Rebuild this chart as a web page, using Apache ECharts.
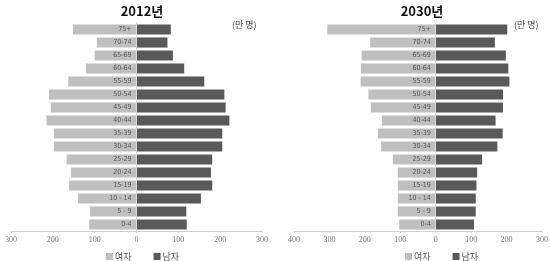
<!DOCTYPE html>
<html><head><meta charset="utf-8">
<script src="https://cdn.jsdelivr.net/npm/echarts@6/dist/echarts.min.js"></script>
<style>html,body{margin:0;padding:0;background:#fff}#c{width:550px;height:261px}</style>
</head><body><div id="c"></div>
<script>
const categories = ['0-4','5 - 9','10 - 14','15-19','20-24','25-29','30-34','35-39','40-44','45-49','50-54','55-59','60-64','65-69','70-74','75+'];
const female2012 = [113,111,140,161,157,167,197,197,215,205,209,163,121,100,95,152];
const male2012   = [120,119,154,181,178,181,205,205,222,213,210,162,114,87,74,82];
const female2030 = [103,107,107,107,107,121,154,163,152,183,190,212,211,209,185,306];
const male2030   = [108,113,113,115,117,131,174,189,169,190,190,208,205,198,167,202];
const titles = ['2012년','2030년'];
const seriesNames = ['여자','남자'];
const unitLabel = '(만 명)';

const font = '"Noto Sans CJK KR", "Noto Sans", sans-serif';
const cFemale = '#bfbfbf', cMale = '#595959';
const grids = [{left:11, right:288, top:23, bottom:30}, {left:294, right:8, top:23, bottom:30}];
const W = 550;
const chart = echarts.init(document.getElementById('c'), null, {renderer:'canvas'});
const neg = a => a.map(v => -v);
function zeroX(gi, min) {
  const g = grids[gi]; const w = W - g.left - g.right;
  return g.left + w * (-min) / (300 - min);
}
const mins = [-300, -400];
function xAxis(gi) {
  return {gridIndex: gi, type:'value', min: mins[gi], max: 300, interval: 100,
    axisLine:{show:true, onZero:false, lineStyle:{color:'#d0d0d0'}},
    axisTick:{show:true, length:2, lineStyle:{color:'#d0d0d0'}},
    splitLine:{show:false},
    axisLabel:{fontSize:8, color:'#777', margin:5, fontFamily:'"Liberation Serif", serif',
      formatter: v => Math.abs(v)}};
}
function yAxis(gi) {
  const off = zeroX(gi, mins[gi]) - grids[gi].left;
  return {gridIndex: gi, type:'category', data: categories, z: 20,
    axisLine:{show:false}, axisTick:{show:false},
    axisLabel:{interval:0, fontSize:7, color:'#555', margin:-(off - 5),
      fontFamily:'"Liberation Sans Narrow", "DejaVu Sans Condensed", sans-serif'}};
}
function bar(name, gi, data, color, withLine) {
  const s = {name, type:'bar', xAxisIndex: gi, yAxisIndex: gi, data, stack:'s'+gi,
    barCategoryGap:'22%', itemStyle:{color}, silent:true};
  if (withLine) s.markLine = {silent:true, symbol:'none', label:{show:false},
    lineStyle:{color:'#d9d9d9', width:1, type:'solid'}, data:[{xAxis:0}]};
  return s;
}
chart.setOption({
  animation:false,
  textStyle:{fontFamily:font},
  title:[
    {text:titles[0], left:137, top:0, textAlign:'center', textStyle:{fontSize:13, fontWeight:'bold', color:'#111', fontFamily:font}},
    {text:titles[1], left:417, top:0, textAlign:'center', textStyle:{fontSize:13, fontWeight:'bold', color:'#111', fontFamily:font}}
  ],
  legend:[
    {left:101, top:247, itemWidth:7, itemHeight:7, itemGap:22, icon:'rect', data:seriesNames,
      textStyle:{fontSize:9, color:'#555', padding:[0,0,0,-3]}},
    {left:400, top:247, itemWidth:7, itemHeight:7, itemGap:22, icon:'rect', data:seriesNames,
      textStyle:{fontSize:9, color:'#555', padding:[0,0,0,-3]}}
  ],
  graphic:[
    {type:'text', left:232, top:20, style:{text:unitLabel, fontSize:9, fill:'#444', fontFamily:font}},
    {type:'text', left:514, top:20, style:{text:unitLabel, fontSize:9, fill:'#444', fontFamily:font}}
  ],
  grid: grids.map(g => Object.assign({containLabel:false, outerBoundsMode:'none'}, g)),
  xAxis:[xAxis(0), xAxis(1)],
  yAxis:[yAxis(0), yAxis(1)],
  series:[
    bar(seriesNames[0],0,neg(female2012),cFemale,false),
    bar(seriesNames[1],0,male2012,cMale,true),
    bar(seriesNames[0],1,neg(female2030),cFemale,false),
    bar(seriesNames[1],1,male2030,cMale,true)
  ]
});
</script></body></html>
